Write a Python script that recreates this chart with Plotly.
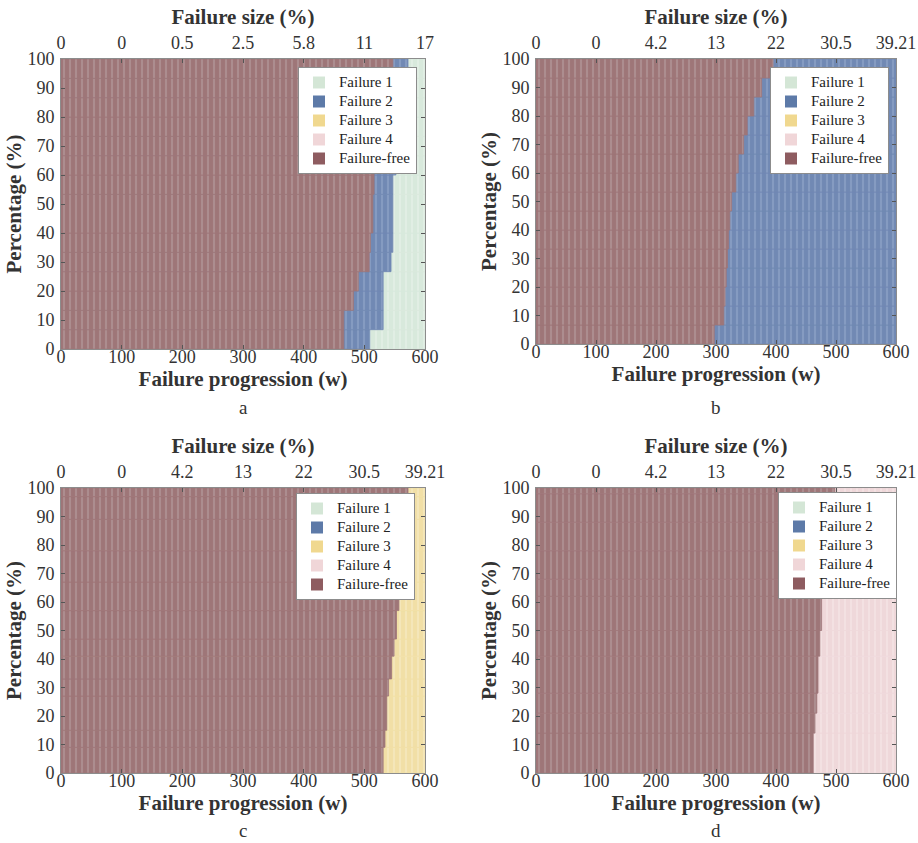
import plotly.graph_objects as go

# ---------------- data ----------------
states = ["Failure 1", "Failure 2", "Failure 3", "Failure 4", "Failure-free"]
bottom_ticks = [0, 100, 200, 300, 400, 500, 600]
top_labels_a = ["0", "0", "0.5", "2.5", "5.8", "11", "17"]
top_labels_bcd = ["0", "0", "4.2", "13", "22", "30.5", "39.21"]

# each panel: percentage bands (edges, %), and where each state ends (w) in that band
a_edges = [0, 6.67, 13.33, 20, 26.67, 33.33, 40, 53.33, 60, 66.67, 73.33, 80, 86.67, 93.33, 100]
a_free_end = [466, 466, 482, 490, 508, 510, 514, 516, 516, 520, 525, 530, 538, 547]
a_f2_end = [509, 531, 531, 531, 544, 547, 547, 547, 552, 556, 560, 563, 567, 572]
a_f1_end = [600, 600, 600, 600, 600, 600, 600, 600, 600, 600, 600, 600, 600, 600]

b_edges = [0, 6.67, 13.33, 20, 26.67, 33.33, 40, 46.67, 53.33, 60, 66.67, 73.33, 80, 86.67, 93.33, 100]
b_free_end = [297, 313, 315, 317, 319, 321, 323, 326, 333, 337, 346, 352, 363, 376, 395]
b_f2_end = [600, 600, 600, 600, 600, 600, 600, 600, 600, 600, 600, 600, 600, 600, 600]

c_edges = [0, 9, 15, 27, 33, 41, 47, 57, 67, 78, 89, 97, 100]
c_free_end = [531, 534, 537, 540, 545, 549, 553, 557, 561, 565, 568, 572]
c_f3_end = [600, 600, 600, 600, 600, 600, 600, 600, 600, 600, 600, 600]

d_edges = [0, 14, 21, 28, 41, 50, 62, 68, 78, 88, 98, 100]
d_free_end = [462, 465, 468, 470, 473, 476, 479, 483, 487, 491, 498]
d_f4_end = [600, 600, 600, 600, 600, 600, 600, 600, 600, 600, 600]

bar_colors = {"Failure 1": "#d8e9dc", "Failure 2": "#7189b4", "Failure 3": "#f1dfa6",
              "Failure 4": "#efd8da", "Failure-free": "#9e7678"}
stripe_colors = {"Failure 1": "#e1eee4", "Failure 2": "#859bc1", "Failure 3": "#f4e6b9",
                 "Failure 4": "#f3e1e2", "Failure-free": "#ac8d8f"}
legend_colors = {"Failure 1": "#d4e6d6", "Failure 2": "#5d7aa8", "Failure 3": "#f0d88f",
                 "Failure 4": "#f0d6d8", "Failure-free": "#8e5c60"}

FONT = "Liberation Serif"
W, H = 918, 843

# pixel layout of panels in the page: (x0, x1, ytop, ybottom)
panels = [
    dict(name="a", box=(61, 425, 59, 349), edges=a_edges, top=top_labels_a,
         layers=[("Failure 1", a_f1_end), ("Failure 2", a_f2_end), ("Failure-free", a_free_end)],
         legend=(417, 67), letter=(243, 407)),
    dict(name="b", box=(536, 896, 59, 344), edges=b_edges, top=top_labels_bcd,
         layers=[("Failure 2", b_f2_end), ("Failure-free", b_free_end)],
         legend=(889, 67), letter=(716, 407)),
    dict(name="c", box=(61, 425, 488, 773), edges=c_edges, top=top_labels_bcd,
         layers=[("Failure 3", c_f3_end), ("Failure-free", c_free_end)],
         legend=(415, 493), letter=(243, 843)),
    dict(name="d", box=(536, 896, 488, 773), edges=d_edges, top=top_labels_bcd,
         layers=[("Failure 4", d_f4_end), ("Failure-free", d_free_end)],
         legend=(897, 492), letter=(716, 843)),
]


def px(x):
    return x / W


def py(y):
    return 1 - y / H


fig = go.Figure()
layout = dict(width=W, height=H, autosize=False, margin=dict(l=0, r=0, t=0, b=0, autoexpand=False),
              paper_bgcolor="white", plot_bgcolor="white", barmode="overlay",
              font=dict(family=FONT, color="#333333", size=17), annotations=[])

for i, p in enumerate(panels, start=1):
    x0, x1, yt, yb = p["box"]
    xa = "x" if i == 1 else f"x{i}"
    ya = "y" if i == 1 else f"y{i}"
    lg = "legend" if i == 1 else f"legend{i}"
    edges = p["edges"]
    centers = [(edges[k] + edges[k + 1]) / 2 for k in range(len(edges) - 1)]
    heights = [edges[k + 1] - edges[k] for k in range(len(edges) - 1)]
    for name, ends in p["layers"]:
        fig.add_trace(go.Bar(orientation="h", x=ends, y=centers, width=heights, base=0,
                             marker=dict(color=bar_colors[name],
                                         line=dict(width=0.8, color=bar_colors[name]),
                                         pattern=dict(shape="|", fgcolor=stripe_colors[name],
                                                      bgcolor=bar_colors[name], size=6,
                                                      solidity=0.35, fillmode="replace")),
                             xaxis=xa, yaxis=ya, showlegend=False, hoverinfo="skip"))
    for r, name in enumerate(states):
        fig.add_trace(go.Bar(orientation="h", x=[None], y=[None],
                             name=f'<span style="font-size:15px">{name}</span>',
                             marker=dict(color=legend_colors[name], line=dict(width=0)),
                             xaxis=xa, yaxis=ya, legend=lg, legendrank=r + 1, showlegend=True))

    dom_x = [px(x0), px(x1)]
    dom_y = [py(yb), py(yt)]
    axis_common = dict(showline=True, linecolor="#8c8c8c", linewidth=1, ticks="inside",
                       ticklen=4, tickcolor="#555555", showgrid=False, zeroline=False,
                       automargin=False,
                       tickfont=dict(family=FONT, size=18, color="#333333"))
    title_font = dict(family=FONT, size=21, color="#333333")
    layout["xaxis" if i == 1 else f"xaxis{i}"] = dict(
        domain=dom_x, anchor=ya, range=[0, 600], tickvals=bottom_ticks, ticklabelstandoff=-9,
        title=dict(text="<b>Failure progression (w)</b>", font=title_font, standoff=2),
        **axis_common)
    layout["yaxis" if i == 1 else f"yaxis{i}"] = dict(
        domain=dom_y, anchor=xa, range=[0, 100], tickvals=list(range(0, 101, 10)), mirror="ticks",
        ticklabelstandoff=2,
        title=dict(text="<b>Percentage (%)</b>", font=title_font, standoff=0),
        **axis_common)
    layout[f"xaxis{i + 4}"] = dict(
        overlaying=xa, anchor=ya, side="top", range=[0, 600], tickvals=bottom_ticks,
        ticktext=p["top"], ticklabelstandoff=2,
        title=dict(text="<b>Failure size (%)</b>", font=title_font, standoff=2),
        **axis_common)
    lx, ly = p["legend"]
    layout[lg] = dict(x=px(lx), y=py(ly), xanchor="right", yanchor="top",
                      bgcolor="white", bordercolor="#8c8c8c", borderwidth=1,
                      font=dict(family=FONT, size=11.5, color="#222222"),
                      tracegroupgap=0, itemwidth=30)
    lt_x, lt_y = p["letter"]
    yanc = "bottom" if lt_y >= H else "middle"
    layout["annotations"].append(dict(text=p["name"], x=px(lt_x), y=py(lt_y),
                                      xref="paper", yref="paper", showarrow=False,
                                      xanchor="center", yanchor=yanc,
                                      font=dict(family=FONT, size=19, color="#333333")))

# dummy traces for the top axes
for i in range(1, 5):
    ya = "y" if i == 1 else f"y{i}"
    fig.add_trace(go.Scatter(x=[None], y=[None], xaxis=f"x{i + 4}", yaxis=ya, showlegend=False))

fig.update_layout(**layout)
fig.write_html("out.html", config={"displayModeBar": False},
               post_script="document.body.style.margin='0px';document.body.style.overflow='hidden';")
